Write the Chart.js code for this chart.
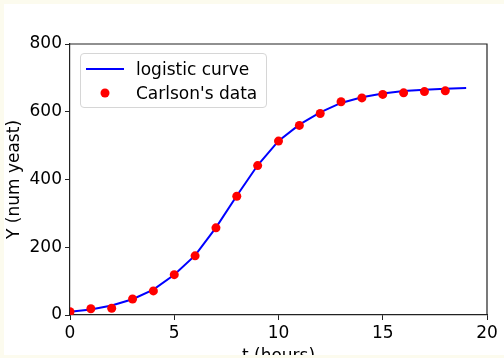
<!DOCTYPE html>
<html>
<head>
<meta charset="utf-8">
<script src="https://cdn.jsdelivr.net/npm/chart.js@4.4.0/dist/chart.umd.min.js"></script>
<style>
  html, body { margin: 0; padding: 0; }
  body { width: 504px; height: 358px; background: #fcfbee; position: relative; overflow: hidden; font-family: "DejaVu Sans", sans-serif; }
  #panel { position: absolute; left: 4px; top: 4px; width: 500px; height: 351px; background: #fff; overflow: hidden; }
  #chart { position: absolute; left: 0; top: 0; }
  #legend { position: absolute; left: 76px; top: 49px; width: 185px; height: 53px; border: 1px solid #d6d6d6; border-radius: 4px; background: rgba(255,255,255,0.8); }
  .item { position: absolute; left: 0; height: 24px; font-size: 17px; color: #000; line-height: 24px; }
  .item .sym { position: absolute; left: 5px; top: 0; width: 38px; height: 24px; }
  .item .txt { position: absolute; left: 55px; top: 0; white-space: nowrap; }
</style>
</head>
<body>
<div id="panel">
  <canvas id="chart" width="500" height="366"></canvas>
  <div id="legend"></div>
</div>
<script>
  // data
  const hours = [0, 1, 2, 3, 4, 5, 6, 7, 8, 9, 10, 11, 12, 13, 14, 15, 16, 17, 18];
  const yeast = [9.6, 18.3, 20, 47.2, 71.1, 119.1, 174.6, 257.3, 350.7, 441.0, 513.3, 559.7, 594.8, 629.4, 640.8, 651.1, 655.9, 659.6, 661.8];

  const curveHours = [0, 1, 2, 3, 4, 5, 6, 7, 8, 9, 10, 11, 12, 13, 14, 15, 16, 17, 18, 19];
  const curveYeast = [9.6, 16.5, 28, 46.5, 75, 119, 176, 258, 352, 442, 514, 562, 598, 626, 643, 654, 661, 665, 668, 670];

  const xTicks = [0, 5, 10, 15, 20];
  const yTicks = [0, 200, 400, 600, 800];

  const curveLabel = 'logistic curve';
  const dataLabel = "Carlson's data";

  function toPoints(xs, ys) {
    return xs.map((x, i) => ({ x: x, y: ys[i] }));
  }

  // kotak sumbu di sisi atas dan kanan
  const frame = {
    id: 'frame',
    afterDraw(chart) {
      const a = chart.chartArea;
      const ctx = chart.ctx;
      ctx.save();
      ctx.strokeStyle = '#222';
      ctx.lineWidth = 1.2;
      ctx.beginPath();
      ctx.moveTo(a.left, a.top);
      ctx.lineTo(a.right, a.top);
      ctx.lineTo(a.right, a.bottom);
      ctx.stroke();
      ctx.restore();
    }
  };

  const font = { family: 'DejaVu Sans', size: 17 };

  const chart = new Chart(document.getElementById('chart').getContext('2d'), {
    type: 'scatter',
    data: {
      datasets: [
        {
          type: 'line',
          label: curveLabel,
          data: toPoints(curveHours, curveYeast),
          borderColor: '#0000ff',
          borderWidth: 2,
          pointRadius: 0,
          fill: false,
          tension: 0,
          order: 2
        },
        {
          label: dataLabel,
          data: toPoints(hours, yeast),
          backgroundColor: '#ff0000',
          borderColor: '#ff0000',
          pointRadius: 4.5,
          borderWidth: 0,
          order: 1
        }
      ]
    },
    options: {
      responsive: false,
      animation: false,
      layout: { padding: { left: 0, top: 40, right: 17, bottom: 0 } },
      plugins: {
        legend: { display: false },
        tooltip: { enabled: false }
      },
      scales: {
        x: {
          type: 'linear',
          min: 0,
          max: 20,
          afterBuildTicks: function(scale) { scale.ticks = xTicks.map(v => ({ value: v })); },
          afterFit: function(scale) { scale.height = 55; },
          ticks: { font: font, color: '#000', padding: 3, maxRotation: 0 },
          grid: { drawOnChartArea: false, drawTicks: true, tickLength: 5, color: '#222', lineWidth: 1 },
          border: { color: '#222', width: 1.2 },
          title: { display: true, text: 't (hours)', font: font, color: '#000', padding: { top: 0, bottom: 3 } }
        },
        y: {
          min: 0,
          max: 800,
          afterBuildTicks: function(scale) { scale.ticks = yTicks.map(v => ({ value: v })); },
          afterFit: function(scale) { scale.width = 66; },
          ticks: { font: font, color: '#000', padding: 3 },
          grid: { drawOnChartArea: false, drawTicks: true, tickLength: 5, color: '#222', lineWidth: 1 },
          border: { color: '#222', width: 1.2 },
          title: { display: true, text: 'Y (num yeast)', font: font, color: '#000', padding: 0 }
        }
      }
    },
    plugins: [frame]
  });

  // legenda di dalam area plot
  const legend = document.getElementById('legend');
  chart.data.datasets.forEach(function(ds, i) {
    const item = document.createElement('div');
    item.className = 'item';
    item.style.top = (3 + i * 24) + 'px';
    item.style.width = '100%';
    const sym = document.createElement('canvas');
    sym.className = 'sym';
    sym.width = 38; sym.height = 24;
    const c = sym.getContext('2d');
    if (ds.type === 'line') {
      c.strokeStyle = ds.borderColor;
      c.lineWidth = 2;
      c.beginPath(); c.moveTo(0, 12); c.lineTo(38, 12); c.stroke();
    } else {
      c.fillStyle = ds.backgroundColor;
      c.beginPath(); c.arc(19, 12, 4.5, 0, Math.PI * 2); c.fill();
    }
    const txt = document.createElement('span');
    txt.className = 'txt';
    txt.textContent = ds.label;
    item.appendChild(sym);
    item.appendChild(txt);
    legend.appendChild(item);
  });
</script>
</body>
</html>
